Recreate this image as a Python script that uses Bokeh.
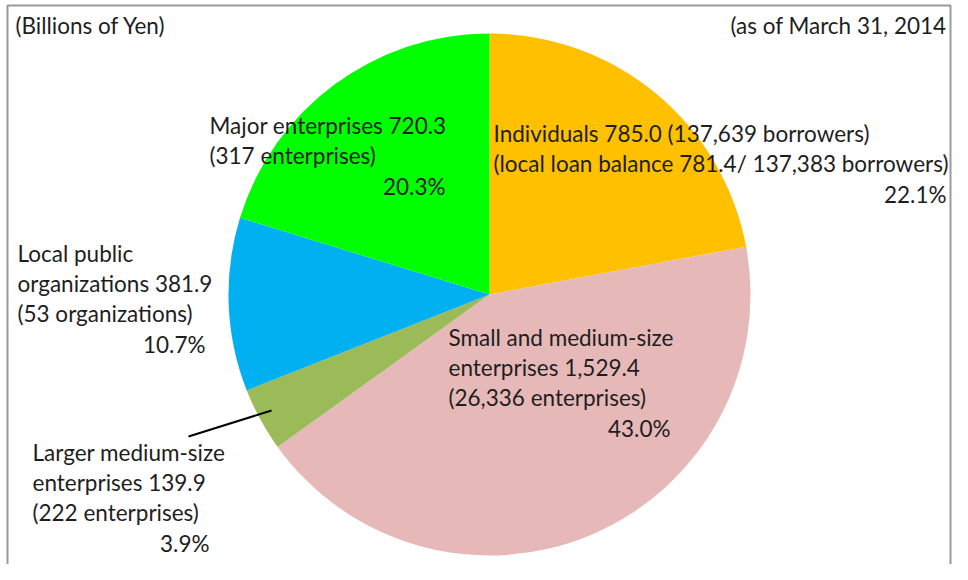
import numpy as np
from bokeh.plotting import figure
from bokeh.models import Range1d, ColumnDataSource
from bokeh.core.properties import value
from bokeh.embed import file_html
from bokeh.resources import INLINE

# ---- data ----
categories = ["Individuals", "Small and medium-size enterprises",
              "Larger medium-size enterprises", "Local public organizations",
              "Major enterprises"]
amounts = [785.0, 1529.4, 139.9, 381.9, 720.3]
colors = ["#FFC000", "#E6B9B8", "#9BBB59", "#00B0F0", "#00FF00"]
label_lines = [
    ["Individuals 785.0 (137,639 borrowers)",
     "(local loan balance 781.4/ 137,383 borrowers)"],
    ["Small and medium-size", "enterprises 1,529.4", "(26,336 enterprises)"],
    ["Larger medium-size", "enterprises 139.9", "(222 enterprises)"],
    ["Local public", "organizations 381.9", "(53 organizations)"],
    ["Major enterprises 720.3", "(317 enterprises)"],
]
unit_text = "(Billions of Yen)"
date_text = "(as of March 31, 2014"

# ---- layout (x = px, y = H - py) ----
W, H = 952, 564
cx, cy, R = 489, 270, 261
# label blocks: (left x, right x, first line center y)
label_pos = [(493, 946, 431), (448, 670, 227), (32, 209, 112),
             (17, 205, 311), (209, 445, 439)]
line_gap = 30
FONT = value("Lato")
FS = "22.5px"
TXT = "#1e1e1e"

p = figure(width=W, height=H, output_backend="svg", toolbar_location=None,
           x_range=Range1d(0, W), y_range=Range1d(0, H),
           min_border=0, outline_line_color=None, background_fill_color="white")
p.axis.visible = False
p.grid.visible = False

vals = np.array(amounts)
frac = vals / vals.sum()
cum = np.concatenate([[0], np.cumsum(frac)])
start = np.pi / 2 - cum[1:] * 2 * np.pi
end = np.pi / 2 - cum[:-1] * 2 * np.pi
src = ColumnDataSource(dict(start=start, end=end, color=colors, cat=categories))
p.wedge(x=cx, y=cy, radius=R, start_angle="start", end_angle="end",
        fill_color="color", line_color=None, source=src)

# frame (left, top, right)
p.line([7, 7, 950, 950], [0, 559, 559, 0], line_color="#9a9a9a", line_width=2)

# leader line for small slice
p.line([188, 271], [128, 154], line_color="black", line_width=2)

for lines, (lx, rx, ty), f in zip(label_lines, label_pos, frac):
    ys = [ty - i * line_gap for i in range(len(lines))]
    p.text(x=[lx] * len(lines), y=ys, text=lines, text_font=FONT,
           text_font_size=FS, text_color=TXT, text_align="left",
           text_baseline="middle")
    p.text(x=[rx], y=[ty - len(lines) * line_gap - 1], text=[f"{f*100:.1f}%"],
           text_font=FONT, text_font_size=FS, text_color=TXT,
           text_align="right", text_baseline="middle")

p.text(x=[15], y=[539], text=[unit_text], text_font=FONT, text_font_size=FS,
       text_color=TXT, text_align="left", text_baseline="middle")
p.text(x=[946], y=[539], text=[date_text], text_font=FONT, text_font_size=FS,
       text_color=TXT, text_align="right", text_baseline="middle")

open("out.html", "w").write(file_html(p, INLINE))
